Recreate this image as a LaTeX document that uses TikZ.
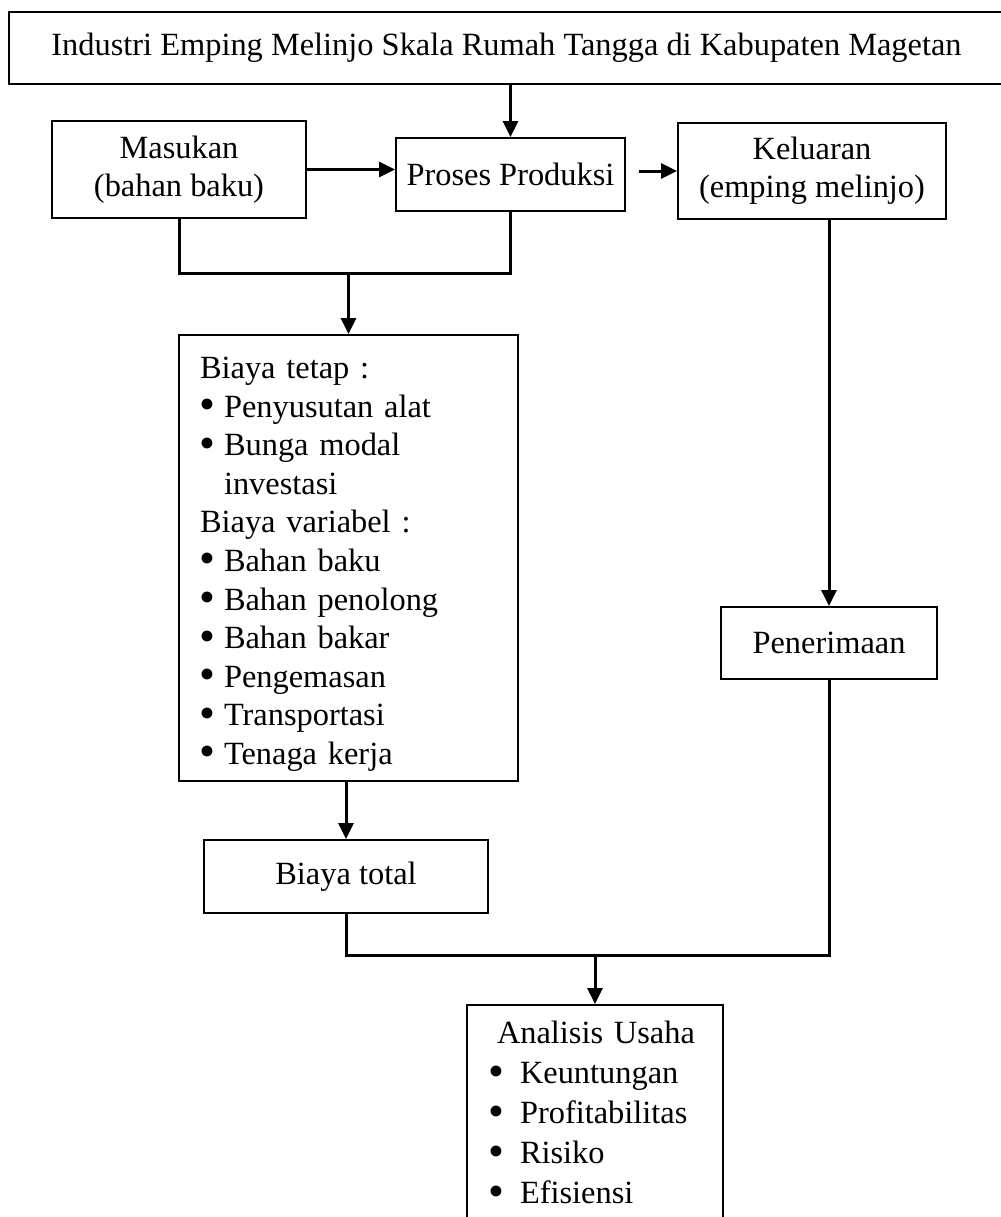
\documentclass[tikz,border=0pt]{standalone}
\usepackage{fontspec}
\usepackage{graphicx}
\setmainfont{Liberation Serif}
\usetikzlibrary{arrows.meta}

% titik besar untuk daftar
\newcommand{\butir}{\raisebox{-1.2pt}{\scalebox{1.4}{\textbullet}}}

\begin{document}
\begin{tikzpicture}[x=0.5pt, y=-0.5pt,
    kotak/.style={draw, line width=1pt, inner sep=0pt, align=center, font=\fontsize{16.2}{19}\selectfont},
    garis/.style={line width=1.5pt},
    panah/.style={line width=1.5pt, -{Triangle[length=8pt,width=7.5pt]}}]

    \useasboundingbox (0,0) rectangle (1001,1217);

    % Judul di atas
    \node[kotak, minimum width=497.5pt, minimum height=36pt] (judul) at (506.5,48) {Industri Emping Melinjo Skala Rumah Tangga di Kabupaten Magetan};

    % Masukan, proses dan keluaran
    \node[kotak, minimum width=127pt, minimum height=48.5pt] (masukan) at (179,169.5) {Masukan\\(bahan baku)};
    \node[kotak, minimum width=114.5pt, minimum height=36.5pt] (proses) at (510.5,174.5) {Proses Produksi};
    \node[kotak, minimum width=134pt, minimum height=48pt] (keluaran) at (812,171) {Keluaran\\(emping melinjo)};

    % Rincian biaya
    \node[kotak, align=left, text width=148.5pt, inner xsep=10.5pt, minimum height=223pt, font=\fontsize{16.2}{19.3}\selectfont] (biaya) at (348.5,558) {\rule{0pt}{17pt}Biaya tetap :\\
        \makebox[12pt][l]{\hspace{-0.3pt}\butir}Penyusutan alat\\
        \makebox[12pt][l]{\hspace{-0.3pt}\butir}Bunga modal\\
        \hspace*{12pt}investasi\\
        Biaya variabel :\\
        \makebox[12pt][l]{\hspace{-0.3pt}\butir}Bahan baku\\
        \makebox[12pt][l]{\hspace{-0.3pt}\butir}Bahan penolong\\
        \makebox[12pt][l]{\hspace{-0.3pt}\butir}Bahan bakar\\
        \makebox[12pt][l]{\hspace{-0.3pt}\butir}Pengemasan\\
        \makebox[12pt][l]{\hspace{-0.3pt}\butir}Transportasi\\
        \makebox[12pt][l]{\hspace{-0.3pt}\butir}Tenaga kerja};

    \node[kotak, minimum width=142pt, minimum height=36.5pt] (total) at (346,876.5) {Biaya total};
    \node[kotak, minimum width=108pt, minimum height=36pt] (penerimaan) at (829,643) {Penerimaan};

    % Analisis usaha (terpotong di bawah)
    \node[kotak, anchor=north, align=left, text width=107pt, inner xsep=10.5pt, inner ysep=8.25pt, font=\fontsize{16.2}{20}\selectfont] (analisis) at (595,1004) {\hspace*{4.5pt}Analisis Usaha\\
        \makebox[16pt][l]{\butir}Keuntungan\\
        \makebox[16pt][l]{\butir}Profitabilitas\\
        \makebox[16pt][l]{\butir}Risiko\\
        \makebox[16pt][l]{\butir}Efisiensi};

    % Panah antar kotak
    \draw[panah] (judul.south -| proses.north) -- (proses.north);
    \draw[panah] (masukan.east) -- (masukan.east -| proses.west);
    \draw[panah] ([xshift=6.5pt]proses.east |- keluaran.west) -- (keluaran.west);

    \coordinate (cabang1) at (348.5,273);
    \draw[garis] (masukan.south) |- (cabang1) -| (proses.south);
    \draw[panah] (cabang1) -- (biaya.north);
    \draw[panah] (total.north |- biaya.south) -- (total.north);
    \draw[panah] (penerimaan.north |- keluaran.south) -- (penerimaan.north);

    \coordinate (cabang2) at (595,955);
    \draw[garis] (total.south) |- (cabang2) -| (penerimaan.south);
    \draw[panah] (cabang2) -- (analisis.north);

\end{tikzpicture}
\end{document}
